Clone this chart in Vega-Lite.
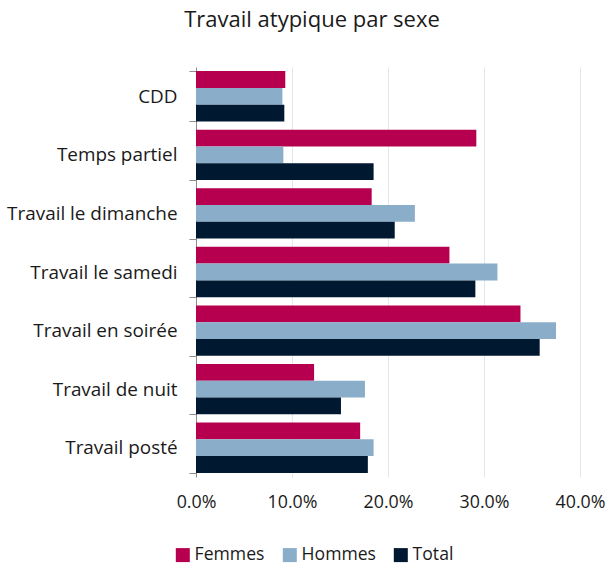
{
  "$schema": "https://vega.github.io/schema/vega-lite/v6.json",
  "autosize": "none",
  "width": 384,
  "height": 410,
  "padding": {"left": 196, "top": 67, "right": 28, "bottom": 88},
  "title": {"text": "Travail atypique par sexe", "fontSize": 22, "font": "Open Sans", "fontWeight": "normal", "color": "#1a1a1a", "anchor": "middle", "dx": -76, "offset": 26},
  "config": {"view": {"stroke": null}, "font": "Open Sans"},
  "data": {"values": [
    {"cat": "CDD", "sexe": "Femmes", "v": 0.093},
    {"cat": "CDD", "sexe": "Hommes", "v": 0.090},
    {"cat": "CDD", "sexe": "Total", "v": 0.092},
    {"cat": "Temps partiel", "sexe": "Femmes", "v": 0.292},
    {"cat": "Temps partiel", "sexe": "Hommes", "v": 0.091},
    {"cat": "Temps partiel", "sexe": "Total", "v": 0.185},
    {"cat": "Travail le dimanche", "sexe": "Femmes", "v": 0.183},
    {"cat": "Travail le dimanche", "sexe": "Hommes", "v": 0.228},
    {"cat": "Travail le dimanche", "sexe": "Total", "v": 0.207},
    {"cat": "Travail le samedi", "sexe": "Femmes", "v": 0.264},
    {"cat": "Travail le samedi", "sexe": "Hommes", "v": 0.314},
    {"cat": "Travail le samedi", "sexe": "Total", "v": 0.291},
    {"cat": "Travail en soirée", "sexe": "Femmes", "v": 0.338},
    {"cat": "Travail en soirée", "sexe": "Hommes", "v": 0.375},
    {"cat": "Travail en soirée", "sexe": "Total", "v": 0.358},
    {"cat": "Travail de nuit", "sexe": "Femmes", "v": 0.123},
    {"cat": "Travail de nuit", "sexe": "Hommes", "v": 0.176},
    {"cat": "Travail de nuit", "sexe": "Total", "v": 0.151},
    {"cat": "Travail posté", "sexe": "Femmes", "v": 0.171},
    {"cat": "Travail posté", "sexe": "Hommes", "v": 0.185},
    {"cat": "Travail posté", "sexe": "Total", "v": 0.179}
  ]},
  "mark": {"type": "bar"},
  "encoding": {
    "y": {
      "field": "cat", "type": "nominal", "sort": null,
      "scale": {"paddingInner": 0.14, "paddingOuter": 0.07},
      "axis": {"title": null, "tickBand": "extent", "tickSize": 7, "tickColor": "#8c8c8c", "domainColor": "#8c8c8c", "labelPadding": 12, "labelFontSize": 18.9, "labelColor": "#1a1a1a", "labelFont": "Open Sans", "grid": false}
    },
    "yOffset": {"field": "sexe", "type": "nominal", "sort": ["Femmes", "Hommes", "Total"], "scale": {"paddingInner": 0, "paddingOuter": 0}},
    "x": {
      "field": "v", "type": "quantitative",
      "scale": {"domain": [0, 0.4], "nice": false},
      "axis": {"title": null, "format": ".1%", "values": [0, 0.1, 0.2, 0.3, 0.4], "domain": false, "ticks": false, "labelPadding": 16, "labelFontSize": 17.8, "labelColor": "#1a1a1a", "labelFont": "Open Sans", "gridColor": "#e3e7ed", "labelFlush": false}
    },
    "color": {
      "field": "sexe", "type": "nominal",
      "scale": {"domain": ["Femmes", "Hommes", "Total"], "range": ["#b6004f", "#8aaec9", "#001830"]},
      "legend": {"title": null, "orient": "none", "direction": "horizontal", "legendX": -22, "legendY": 479, "symbolType": "square", "symbolSize": 196, "symbolStrokeWidth": 0, "labelFontSize": 17.6, "labelColor": "#1a1a1a", "labelFont": "Open Sans", "labelOffset": 3, "columnPadding": 16}
    }
  }
}
